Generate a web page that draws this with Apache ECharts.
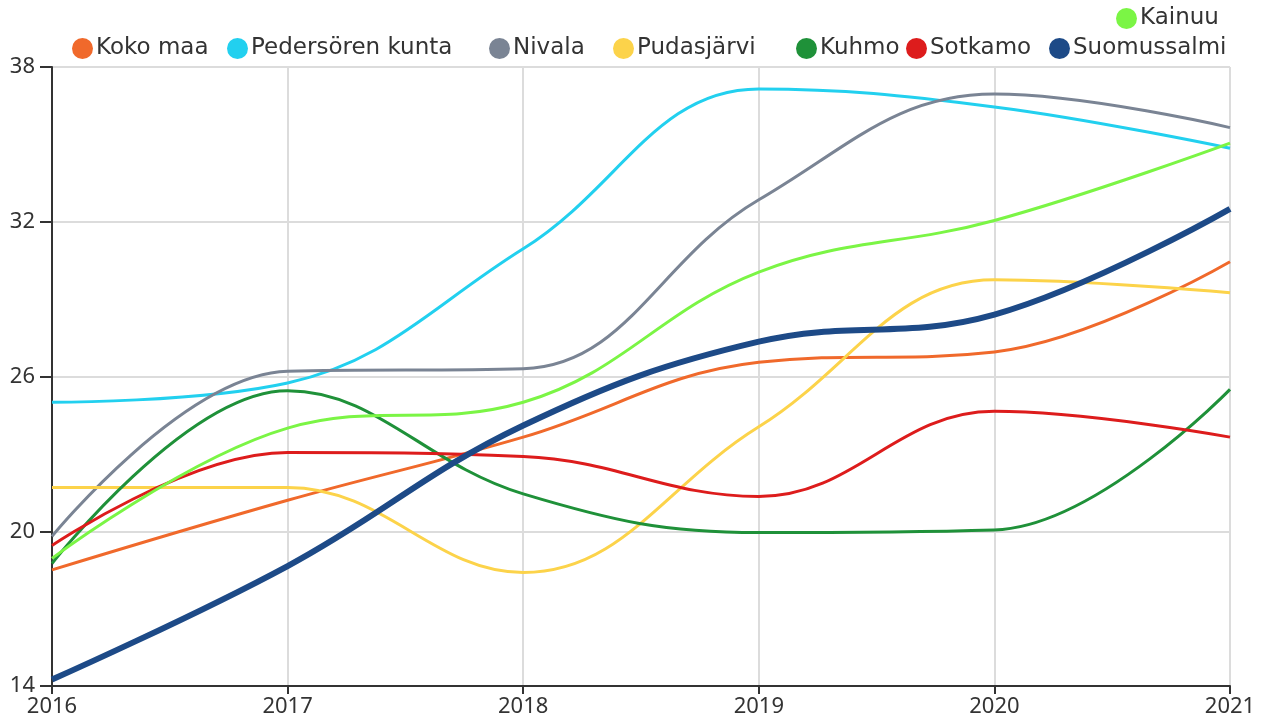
<!DOCTYPE html>
<html>
<head>
<meta charset="utf-8">
<script src="https://cdn.jsdelivr.net/npm/echarts@6/dist/echarts.min.js"></script>
<style>
  html, body { margin: 0; padding: 0; background: #fff; }
  #chart { width: 1270px; height: 724px; }
</style>
</head>
<body>
<div id="chart"></div>
<script>
// vuodet
var years = ['2016', '2017', '2018', '2019', '2020', '2021'];

// arvot kunnittain
var kokoMaa      = [18.5, 21.2, 23.65, 26.55, 26.95, 30.45];
var pedersoren   = [25.0, 25.75, 30.95, 37.15, 36.45, 34.85];
var nivala       = [19.8, 26.2, 26.3, 32.85, 36.95, 35.65];
var pudasjarvi   = [21.7, 21.7, 18.4, 24.05, 29.75, 29.25];
var kuhmo        = [18.75, 25.45, 21.45, 19.95, 20.05, 25.5];
var sotkamo      = [19.45, 23.05, 22.9, 21.35, 24.65, 23.65];
var suomussalmi  = [14.25, 18.65, 24.1, 27.35, 28.4, 32.5];
var kainuu       = [18.95, 24.0, 25.0, 30.05, 32.05, 35.05];

var yTicks = [14, 20, 26, 32, 38];

var names = ['Koko maa', 'Pedersören kunta', 'Nivala', 'Pudasjärvi', 'Kuhmo', 'Sotkamo', 'Suomussalmi', 'Kainuu'];
var values = [kokoMaa, pedersoren, nivala, pudasjarvi, kuhmo, sotkamo, suomussalmi, kainuu];
var colors = ['#f0692b', '#22d0ef', '#7a8494', '#fcd34a', '#1f9139', '#dd1c1c', '#1d4a87', '#7bf545'];

// legendan paikat (vasen reuna, ylä)
var legendPos = [
  [72, 37], [227, 37], [489, 37], [613, 37], [796, 37], [906, 37], [1049, 37], [1116, 7]
];

var chart = echarts.init(document.getElementById('chart'));

var legends = names.map(function (n, i) {
  return {
    data: [n],
    left: legendPos[i][0],
    top: legendPos[i][1],
    icon: 'circle',
    itemWidth: 21,
    itemHeight: 21,
    itemGap: 0,
    padding: 0,
    selectedMode: false,
    textStyle: { fontFamily: 'DejaVu Sans', fontSize: 23, color: '#333', padding: [0, 0, 0, -2] }
  };
});

var series = names.map(function (n, i) {
  return {
    name: n,
    type: 'line',
    data: values[i],
    smooth: 0.4,
    showSymbol: false,
    symbol: 'none',
    lineStyle: { color: colors[i], width: n === 'Suomussalmi' ? 6 : 3 },
    itemStyle: { color: colors[i] },
    z: n === 'Suomussalmi' ? 3 : 2
  };
});

var option = {
  animation: false,
  legend: legends,
  grid: { left: 52, right: 40, top: 67, bottom: 38 },
  xAxis: {
    type: 'category',
    data: years,
    boundaryGap: false,
    axisLine: { lineStyle: { color: '#333', width: 2 } },
    axisTick: { length: 8, lineStyle: { color: '#333', width: 2 } },
    axisLabel: { color: '#333', fontFamily: 'Noto Sans', fontSize: 22, margin: 10 },
    splitLine: { show: true, lineStyle: { color: '#dcdcdc', width: 2 } }
  },
  yAxis: {
    type: 'value',
    min: yTicks[0],
    max: yTicks[yTicks.length - 1],
    interval: 6,
    axisLine: { show: true, lineStyle: { color: '#333', width: 2 } },
    axisTick: { show: true, length: 12, lineStyle: { color: '#333', width: 2 } },
    axisLabel: { color: '#333', fontFamily: 'Noto Sans', fontSize: 22, margin: 17 },
    splitLine: { show: true, lineStyle: { color: '#dcdcdc', width: 2 } }
  },
  series: series
};

chart.setOption(option);
</script>
</body>
</html>
